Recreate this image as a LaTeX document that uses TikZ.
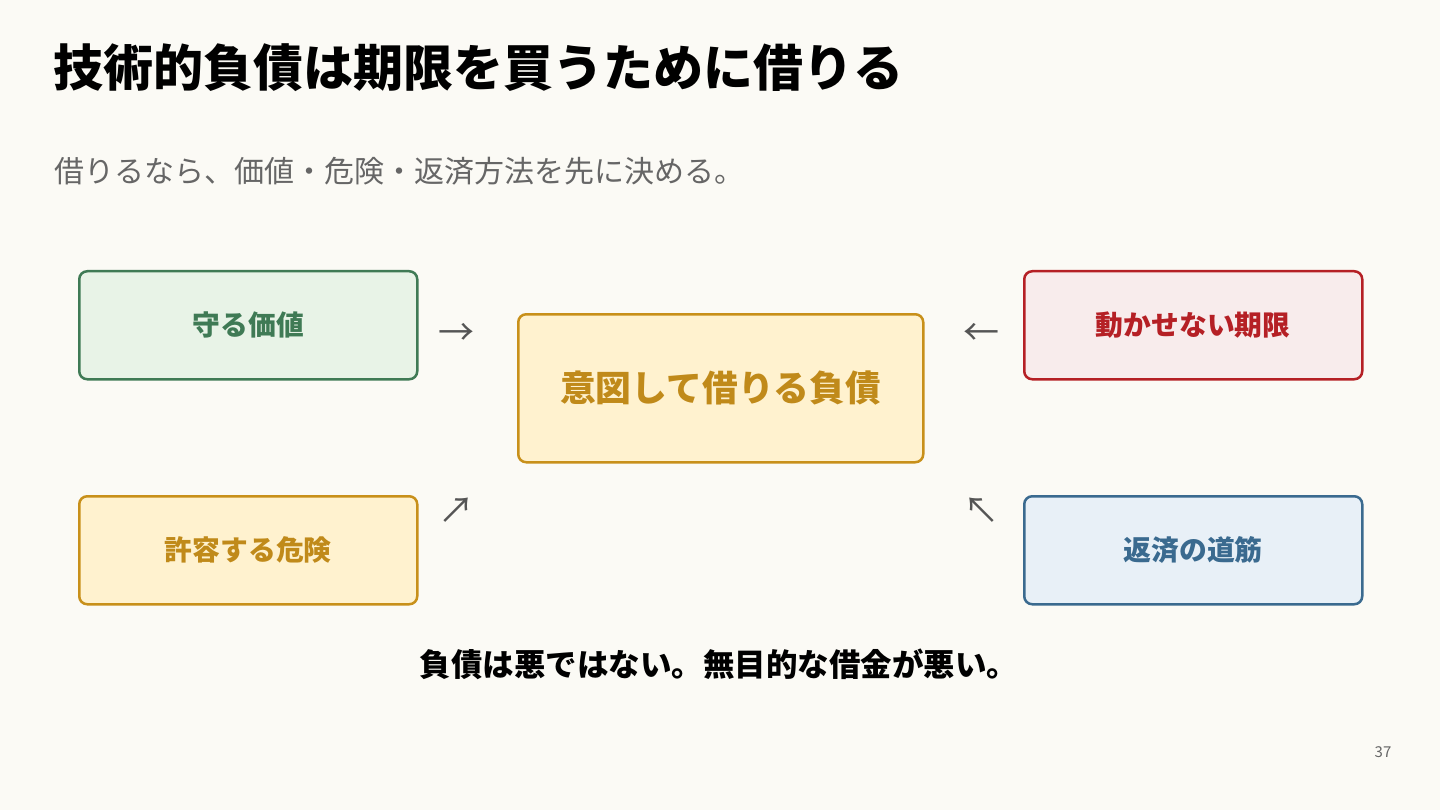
\documentclass[tikz,border=0pt]{standalone}
\usepackage{fontspec}
\setmainfont{Noto Sans CJK JP}
\definecolor{bg}{HTML}{FBFAF5}
\definecolor{greenB}{HTML}{3F7A55}
\definecolor{greenF}{HTML}{E8F3E7}
\definecolor{goldB}{HTML}{C8901A}
\definecolor{goldF}{HTML}{FFF2CF}
\definecolor{goldT}{HTML}{C08A1A}
\definecolor{redB}{HTML}{B52025}
\definecolor{redF}{HTML}{F8ECEC}
\definecolor{blueB}{HTML}{3A6A8F}
\definecolor{blueF}{HTML}{E8F0F7}
\definecolor{subg}{HTML}{666666}
\definecolor{arrg}{HTML}{555555}
\tikzset{
  box/.style={draw, line width=2.5pt, rounded corners=8pt, anchor=north west, inner sep=0pt},
  lbl/.style={font=\bfseries\fontsize{27.8}{30}\selectfont},
  arr/.style={text=arrg, font=\fontsize{36}{40}\selectfont, inner sep=0pt},
}
\begin{document}
\begin{tikzpicture}[x=1pt,y=-1pt]
\fill[bg] (0,0) rectangle (1440,810);
\useasboundingbox (0,0) rectangle (1440,810);
\node[anchor=west, inner sep=0pt, font=\bfseries\fontsize{50}{56}\selectfont] (title) at (53,68) {技術的負債は期限を買うために借りる};
\node[anchor=west, inner sep=0pt, text=subg, font=\fontsize{30}{34}\selectfont] (sub) at (54,171) {借りるなら、価値・危険・返済方法を先に決める。};

\node[box, draw=greenB, fill=greenF, minimum width=338pt, minimum height=108pt] (val) at (78,270) {};
\node[lbl, text=greenB] at (val.center) {守る価値};

\node[box, draw=redB, fill=redF, minimum width=338pt, minimum height=108pt] (dead) at (1023,270) {};
\node[lbl, text=redB] at (dead.center) {動かせない期限};

\node[box, draw=goldB, fill=goldF, minimum width=338pt, minimum height=108pt] (risk) at (78,495) {};
\node[lbl, text=goldT] at (risk.center) {許容する危険};

\node[box, draw=blueB, fill=blueF, minimum width=338pt, minimum height=108pt] (pay) at (1023,495) {};
\node[lbl, text=blueB] at (pay.center) {返済の道筋};

\node[box, draw=goldB, fill=goldF, minimum width=405pt, minimum height=148pt] (debt) at (517,313) {};
\node[text=goldT, font=\bfseries\fontsize{35.8}{40}\selectfont] at (debt.center) {意図して借りる負債};

\node[arr] (a1) at (456,334) {→};
\node[arr] (a2) at (981,334) {←};
\node[arr] (a3) at (456,511) {↗};
\node[arr] (a4) at (981,511) {↖};

\node[font=\bfseries\fontsize{31.5}{34}\selectfont] (foot) at (719,664) {負債は悪ではない。無目的な借金が悪い。};
\node[text=subg, font=\fontsize{15}{18}\selectfont] (pg) at (1383,752) {37};
\end{tikzpicture}
\end{document}
